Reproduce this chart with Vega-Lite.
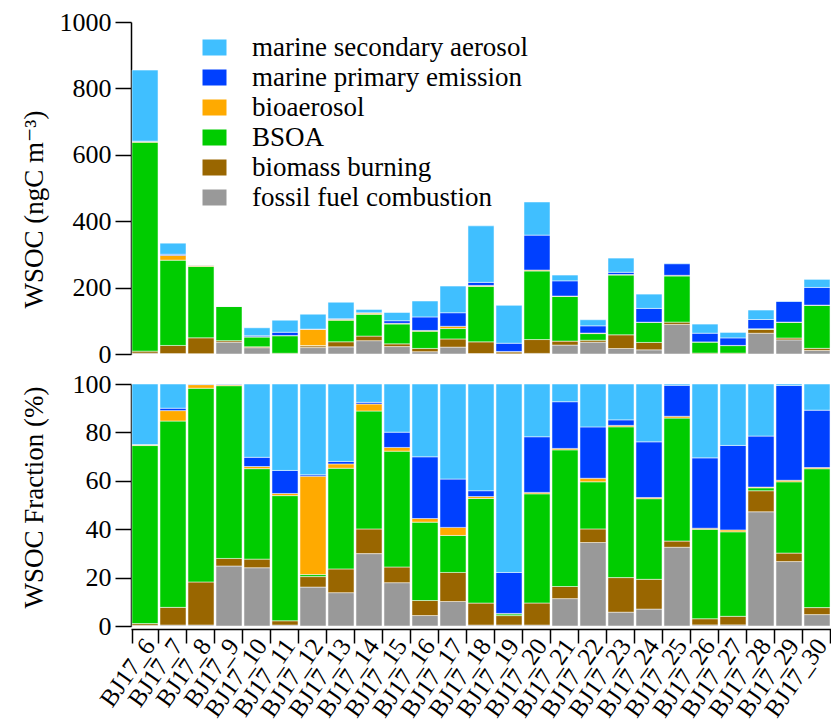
{
  "$schema": "https://vega.github.io/schema/vega-lite/v6.json",
  "padding": {"left": 19, "top": 9, "right": 0, "bottom": 0},
  "background": "white",
  "config": {
    "font": "Liberation Serif, Times New Roman, Times, DejaVu Serif, serif",
    "view": {"stroke": null},
    "axis": {"domainColor": "black", "tickColor": "black", "labelColor": "black", "titleColor": "black", "grid": false, "labelFontSize": 26, "titleFontSize": 27, "titleFontWeight": "normal", "domainWidth": 1.5, "tickWidth": 1.5, "labelFont": "Liberation Serif, Times New Roman, Times, DejaVu Serif, serif", "titleFont": "Liberation Serif, Times New Roman, Times, DejaVu Serif, serif"},
    "legend": {"labelFont": "Liberation Serif, Times New Roman, Times, DejaVu Serif, serif", "labelFontSize": 27, "labelColor": "black", "symbolType": "M-1,-0.667H1V0.667H-1Z", "symbolSize": 576, "symbolStrokeWidth": 0, "symbolOpacity": 1, "labelOffset": 24, "rowPadding": 2, "padding": 0, "labelLimit": 500}
  },
  "datasets": {
    "wsoc": [
      {"sample": "BJ17_6", "source": "fossil fuel combustion", "value": 2.6},
      {"sample": "BJ17_6", "source": "biomass burning", "value": 6},
      {"sample": "BJ17_6", "source": "BSOA", "value": 629},
      {"sample": "BJ17_6", "source": "bioaerosol", "value": 2.6},
      {"sample": "BJ17_6", "source": "marine primary emission", "value": 0.9},
      {"sample": "BJ17_6", "source": "marine secondary aerosol", "value": 214},
      {"sample": "BJ17_7", "source": "fossil fuel combustion", "value": 1.3},
      {"sample": "BJ17_7", "source": "biomass burning", "value": 24.4},
      {"sample": "BJ17_7", "source": "BSOA", "value": 257},
      {"sample": "BJ17_7", "source": "bioaerosol", "value": 14.4},
      {"sample": "BJ17_7", "source": "marine primary emission", "value": 3.3},
      {"sample": "BJ17_7", "source": "marine secondary aerosol", "value": 33.4},
      {"sample": "BJ17_8", "source": "fossil fuel combustion", "value": 1.1},
      {"sample": "BJ17_8", "source": "biomass burning", "value": 47.7},
      {"sample": "BJ17_8", "source": "BSOA", "value": 214.7},
      {"sample": "BJ17_8", "source": "bioaerosol", "value": 4.0},
      {"sample": "BJ17_8", "source": "marine primary emission", "value": 0.5},
      {"sample": "BJ17_8", "source": "marine secondary aerosol", "value": 0.2},
      {"sample": "BJ17_9", "source": "fossil fuel combustion", "value": 35.7},
      {"sample": "BJ17_9", "source": "biomass burning", "value": 4.5},
      {"sample": "BJ17_9", "source": "BSOA", "value": 102.8},
      {"sample": "BJ17_9", "source": "bioaerosol", "value": 0.6},
      {"sample": "BJ17_9", "source": "marine primary emission", "value": 0.4},
      {"sample": "BJ17_9", "source": "marine secondary aerosol", "value": 0},
      {"sample": "BJ17_10", "source": "fossil fuel combustion", "value": 19.0},
      {"sample": "BJ17_10", "source": "biomass burning", "value": 2.8},
      {"sample": "BJ17_10", "source": "BSOA", "value": 29.5},
      {"sample": "BJ17_10", "source": "bioaerosol", "value": 0.7},
      {"sample": "BJ17_10", "source": "marine primary emission", "value": 3.0},
      {"sample": "BJ17_10", "source": "marine secondary aerosol", "value": 23.9},
      {"sample": "BJ17_11", "source": "fossil fuel combustion", "value": 0.4},
      {"sample": "BJ17_11", "source": "biomass burning", "value": 1.8},
      {"sample": "BJ17_11", "source": "BSOA", "value": 52.7},
      {"sample": "BJ17_11", "source": "bioaerosol", "value": 0.9},
      {"sample": "BJ17_11", "source": "marine primary emission", "value": 9.7},
      {"sample": "BJ17_11", "source": "marine secondary aerosol", "value": 36.4},
      {"sample": "BJ17_12", "source": "fossil fuel combustion", "value": 19.3},
      {"sample": "BJ17_12", "source": "biomass burning", "value": 5.2},
      {"sample": "BJ17_12", "source": "BSOA", "value": 1.0},
      {"sample": "BJ17_12", "source": "bioaerosol", "value": 48.8},
      {"sample": "BJ17_12", "source": "marine primary emission", "value": 0.7},
      {"sample": "BJ17_12", "source": "marine secondary aerosol", "value": 45},
      {"sample": "BJ17_13", "source": "fossil fuel combustion", "value": 21.5},
      {"sample": "BJ17_13", "source": "biomass burning", "value": 15.3},
      {"sample": "BJ17_13", "source": "BSOA", "value": 64.9},
      {"sample": "BJ17_13", "source": "bioaerosol", "value": 2.8},
      {"sample": "BJ17_13", "source": "marine primary emission", "value": 1.6},
      {"sample": "BJ17_13", "source": "marine secondary aerosol", "value": 49.9},
      {"sample": "BJ17_14", "source": "fossil fuel combustion", "value": 40.2},
      {"sample": "BJ17_14", "source": "biomass burning", "value": 13.7},
      {"sample": "BJ17_14", "source": "BSOA", "value": 65.5},
      {"sample": "BJ17_14", "source": "bioaerosol", "value": 3.9},
      {"sample": "BJ17_14", "source": "marine primary emission", "value": 0.9},
      {"sample": "BJ17_14", "source": "marine secondary aerosol", "value": 10.2},
      {"sample": "BJ17_15", "source": "fossil fuel combustion", "value": 22.4},
      {"sample": "BJ17_15", "source": "biomass burning", "value": 8.1},
      {"sample": "BJ17_15", "source": "BSOA", "value": 59.9},
      {"sample": "BJ17_15", "source": "bioaerosol", "value": 1.9},
      {"sample": "BJ17_15", "source": "marine primary emission", "value": 7.9},
      {"sample": "BJ17_15", "source": "marine secondary aerosol", "value": 24.9},
      {"sample": "BJ17_16", "source": "fossil fuel combustion", "value": 6.9},
      {"sample": "BJ17_16", "source": "biomass burning", "value": 9.9},
      {"sample": "BJ17_16", "source": "BSOA", "value": 51.7},
      {"sample": "BJ17_16", "source": "bioaerosol", "value": 2.4},
      {"sample": "BJ17_16", "source": "marine primary emission", "value": 40.7},
      {"sample": "BJ17_16", "source": "marine secondary aerosol", "value": 48.0},
      {"sample": "BJ17_17", "source": "fossil fuel combustion", "value": 20.7},
      {"sample": "BJ17_17", "source": "biomass burning", "value": 24.6},
      {"sample": "BJ17_17", "source": "BSOA", "value": 31.3},
      {"sample": "BJ17_17", "source": "bioaerosol", "value": 6.8},
      {"sample": "BJ17_17", "source": "marine primary emission", "value": 40.9},
      {"sample": "BJ17_17", "source": "marine secondary aerosol", "value": 80.4},
      {"sample": "BJ17_18", "source": "fossil fuel combustion", "value": 1.5},
      {"sample": "BJ17_18", "source": "biomass burning", "value": 35.1},
      {"sample": "BJ17_18", "source": "BSOA", "value": 166.8},
      {"sample": "BJ17_18", "source": "bioaerosol", "value": 3.1},
      {"sample": "BJ17_18", "source": "marine primary emission", "value": 9.3},
      {"sample": "BJ17_18", "source": "marine secondary aerosol", "value": 170.2},
      {"sample": "BJ17_19", "source": "fossil fuel combustion", "value": 0.6},
      {"sample": "BJ17_19", "source": "biomass burning", "value": 5.7},
      {"sample": "BJ17_19", "source": "BSOA", "value": 1.0},
      {"sample": "BJ17_19", "source": "bioaerosol", "value": 0.3},
      {"sample": "BJ17_19", "source": "marine primary emission", "value": 24.8},
      {"sample": "BJ17_19", "source": "marine secondary aerosol", "value": 114.1},
      {"sample": "BJ17_20", "source": "fossil fuel combustion", "value": 1.8},
      {"sample": "BJ17_20", "source": "biomass burning", "value": 41.7},
      {"sample": "BJ17_20", "source": "BSOA", "value": 206.6},
      {"sample": "BJ17_20", "source": "bioaerosol", "value": 2.7},
      {"sample": "BJ17_20", "source": "marine primary emission", "value": 105.3},
      {"sample": "BJ17_20", "source": "marine secondary aerosol", "value": 99.8},
      {"sample": "BJ17_21", "source": "fossil fuel combustion", "value": 26.9},
      {"sample": "BJ17_21", "source": "biomass burning", "value": 11.9},
      {"sample": "BJ17_21", "source": "BSOA", "value": 134.3},
      {"sample": "BJ17_21", "source": "bioaerosol", "value": 1.4},
      {"sample": "BJ17_21", "source": "marine primary emission", "value": 45.9},
      {"sample": "BJ17_21", "source": "marine secondary aerosol", "value": 17.4},
      {"sample": "BJ17_22", "source": "fossil fuel combustion", "value": 35.6},
      {"sample": "BJ17_22", "source": "biomass burning", "value": 5.8},
      {"sample": "BJ17_22", "source": "BSOA", "value": 20.1},
      {"sample": "BJ17_22", "source": "bioaerosol", "value": 1.5},
      {"sample": "BJ17_22", "source": "marine primary emission", "value": 21.9},
      {"sample": "BJ17_22", "source": "marine secondary aerosol", "value": 18.3},
      {"sample": "BJ17_23", "source": "fossil fuel combustion", "value": 16.5},
      {"sample": "BJ17_23", "source": "biomass burning", "value": 41.3},
      {"sample": "BJ17_23", "source": "BSOA", "value": 180},
      {"sample": "BJ17_23", "source": "bioaerosol", "value": 1.7},
      {"sample": "BJ17_23", "source": "marine primary emission", "value": 6.6},
      {"sample": "BJ17_23", "source": "marine secondary aerosol", "value": 42.8},
      {"sample": "BJ17_24", "source": "fossil fuel combustion", "value": 12.6},
      {"sample": "BJ17_24", "source": "biomass burning", "value": 22.2},
      {"sample": "BJ17_24", "source": "BSOA", "value": 60.1},
      {"sample": "BJ17_24", "source": "bioaerosol", "value": 0.9},
      {"sample": "BJ17_24", "source": "marine primary emission", "value": 41.5},
      {"sample": "BJ17_24", "source": "marine secondary aerosol", "value": 43.1},
      {"sample": "BJ17_25", "source": "fossil fuel combustion", "value": 89},
      {"sample": "BJ17_25", "source": "biomass burning", "value": 7},
      {"sample": "BJ17_25", "source": "BSOA", "value": 139},
      {"sample": "BJ17_25", "source": "bioaerosol", "value": 2},
      {"sample": "BJ17_25", "source": "marine primary emission", "value": 35},
      {"sample": "BJ17_25", "source": "marine secondary aerosol", "value": 1.5},
      {"sample": "BJ17_26", "source": "fossil fuel combustion", "value": 0.4},
      {"sample": "BJ17_26", "source": "biomass burning", "value": 2.3},
      {"sample": "BJ17_26", "source": "BSOA", "value": 33.3},
      {"sample": "BJ17_26", "source": "bioaerosol", "value": 0.4},
      {"sample": "BJ17_26", "source": "marine primary emission", "value": 26.2},
      {"sample": "BJ17_26", "source": "marine secondary aerosol", "value": 27.5},
      {"sample": "BJ17_27", "source": "fossil fuel combustion", "value": 0.3},
      {"sample": "BJ17_27", "source": "biomass burning", "value": 2.3},
      {"sample": "BJ17_27", "source": "BSOA", "value": 22.7},
      {"sample": "BJ17_27", "source": "bioaerosol", "value": 0.5},
      {"sample": "BJ17_27", "source": "marine primary emission", "value": 22.7},
      {"sample": "BJ17_27", "source": "marine secondary aerosol", "value": 16.5},
      {"sample": "BJ17_28", "source": "fossil fuel combustion", "value": 62.5},
      {"sample": "BJ17_28", "source": "biomass burning", "value": 11.5},
      {"sample": "BJ17_28", "source": "BSOA", "value": 1.6},
      {"sample": "BJ17_28", "source": "bioaerosol", "value": 0.4},
      {"sample": "BJ17_28", "source": "marine primary emission", "value": 27.9},
      {"sample": "BJ17_28", "source": "marine secondary aerosol", "value": 28.5},
      {"sample": "BJ17_29", "source": "fossil fuel combustion", "value": 42.5},
      {"sample": "BJ17_29", "source": "biomass burning", "value": 5.6},
      {"sample": "BJ17_29", "source": "BSOA", "value": 47},
      {"sample": "BJ17_29", "source": "bioaerosol", "value": 1},
      {"sample": "BJ17_29", "source": "marine primary emission", "value": 62.5},
      {"sample": "BJ17_29", "source": "marine secondary aerosol", "value": 1},
      {"sample": "BJ17_30", "source": "fossil fuel combustion", "value": 10.6},
      {"sample": "BJ17_30", "source": "biomass burning", "value": 6.5},
      {"sample": "BJ17_30", "source": "BSOA", "value": 129},
      {"sample": "BJ17_30", "source": "bioaerosol", "value": 1.1},
      {"sample": "BJ17_30", "source": "marine primary emission", "value": 53.3},
      {"sample": "BJ17_30", "source": "marine secondary aerosol", "value": 24.3}
    ]
  },
  "spacing": 30,
  "bounds": "flush",
  "vconcat": [
    {
      "width": 700,
      "height": 332,
      "data": {"name": "wsoc"},
      "transform": [{"calculate": "indexof(['fossil fuel combustion', 'biomass burning', 'BSOA', 'bioaerosol', 'marine primary emission', 'marine secondary aerosol'], datum.source)", "as": "stackKey"}],
      "mark": {"type": "bar", "stroke": "white", "strokeWidth": 1, "strokeOpacity": 0.5},
      "encoding": {
        "x": {"field": "sample", "type": "nominal", "sort": null, "scale": {"paddingInner": 0.07, "paddingOuter": 0.035}, "axis": null},
        "y": {"field": "value", "type": "quantitative", "stack": "zero", "scale": {"domain": [0, 1000], "nice": false},
          "axis": {"values": [0, 200, 400, 600, 800, 1000], "format": "d", "title": "WSOC (ngC m⁻³)", "tickSize": 16, "labelPadding": 4, "titleX": -97, "titleY": 187, "titleAlign": "center", "titleBaseline": "middle", "titleAngle": -90}},
        "order": {"field": "stackKey", "type": "quantitative", "sort": "ascending"},
        "color": {"field": "source", "type": "nominal",
          "scale": {"domain": ["marine secondary aerosol", "marine primary emission", "bioaerosol", "BSOA", "biomass burning", "fossil fuel combustion"], "range": ["#40BFFF", "#0040FF", "#FFAA00", "#00CC00", "#996600", "#999999"]},
          "legend": {"title": null, "orient": "none", "legendX": 70, "legendY": 12}}
      }
    },
    {
      "width": 700,
      "height": 242,
      "data": {"name": "wsoc"},
      "transform": [{"calculate": "indexof(['fossil fuel combustion', 'biomass burning', 'BSOA', 'bioaerosol', 'marine primary emission', 'marine secondary aerosol'], datum.source)", "as": "stackKey"}],
      "mark": {"type": "bar", "stroke": "white", "strokeWidth": 1, "strokeOpacity": 0.5},
      "encoding": {
        "x": {"field": "sample", "type": "nominal", "sort": null, "scale": {"paddingInner": 0.07, "paddingOuter": 0.035},
          "axis": {"title": null, "labelAngle": -55, "labelAlign": "right", "labelBaseline": "middle", "tickSize": 14, "tickBand": "extent", "offset": 3, "labelPadding": -2, "labelOffset": 4, "labelFontSize": 25}},
        "y": {"field": "value", "type": "quantitative", "stack": "normalize", "scale": {"domain": [0, 1], "nice": false},
          "axis": {"values": [0, 0.2, 0.4, 0.6, 0.8, 1], "labelExpr": "format(datum.value * 100, 'd')", "title": "WSOC Fraction (%)", "tickSize": 16, "labelPadding": 4, "titleX": -97, "titleY": 113, "titleAlign": "center", "titleBaseline": "middle", "titleAngle": -90}},
        "order": {"field": "stackKey", "type": "quantitative", "sort": "ascending"},
        "color": {"field": "source", "type": "nominal",
          "scale": {"domain": ["marine secondary aerosol", "marine primary emission", "bioaerosol", "BSOA", "biomass burning", "fossil fuel combustion"], "range": ["#40BFFF", "#0040FF", "#FFAA00", "#00CC00", "#996600", "#999999"]},
          "legend": null}
      }
    }
  ]
}
